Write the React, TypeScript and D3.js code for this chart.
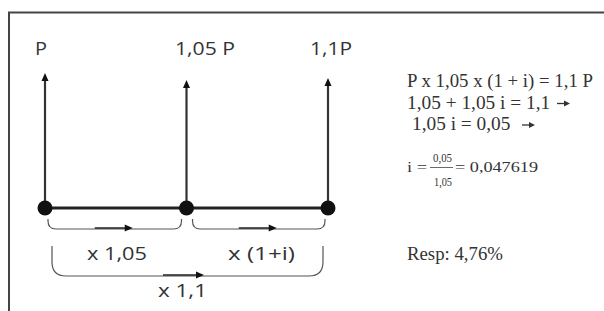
import React from 'react';
import * as d3 from 'd3';

// nodes of the cash-flow line
const nodeLabels = ['P', '1,05 P', '1,1P'];
const nodeIndex = [0, 1, 2];
const nodeArrowTop = [73, 80, 78];

// factor braces: from node, to node, label
const stepFrom = [0, 1];
const stepTo = [1, 2];
const stepLabels = ['x 1,05', 'x (1+i)'];
const totalLabel = 'x 1,1';

// solution lines on the right (arrow flag per line)
const eqLines = ['P x 1,05 x (1 + i) = 1,1 P', '1,05 + 1,05 i = 1,1 ', '1,05 i = 0,05  '];
const eqArrow = [false, true, true];
const fracNum = '0,05';
const fracDen = '1,05';
const fracResult = '= 0,047619';
const answer = 'Resp: 4,76%';

const W = 604;
const H = 311;

const brace = (x0: number, x1: number, yTop: number, yBot: number, r: number) => {
  const p = d3.path();
  p.moveTo(x0, yTop);
  p.lineTo(x0, yBot - r);
  p.quadraticCurveTo(x0, yBot, x0 + r, yBot);
  p.lineTo(x1 - r, yBot);
  p.quadraticCurveTo(x1, yBot, x1, yBot - r);
  p.lineTo(x1, yTop);
  return p.toString();
};

const Arrow = ({ x0, x1, y }: { x0: number; x1: number; y: number }) => (
  <g>
    <line x1={x0} x2={x1 - 6} y1={y} y2={y} stroke="#222" strokeWidth={1.4} />
    <path d={`M${x1},${y} L${x1 - 8},${y - 3.5} L${x1 - 8},${y + 3.5} Z`} fill="#111" />
  </g>
);

export default function App() {
  const x = d3.scaleLinear().domain([0, 2]).range([45, 328]);
  const lineY = 208;
  const sans = '"Open Sans", "DejaVu Sans", sans-serif';
  const serif = '"Liberation Serif", "DejaVu Serif", serif';
  const labelX = [35, 175, 310];
  const labelLen = [12, 60, 42];
  const stepX = [87, 228];
  const stepLen = [60, 67];
  const eqX = [407, 407, 412];
  const eqLen = [186, 148, 108];

  return (
    <svg width={W} height={H} style={{ position: 'absolute', left: 0, top: 0, background: '#fff' }}>
      {/* frame */}
      <path d={`M9,${H} L9,12.5 L${W},12.5`} fill="none" stroke="#444" strokeWidth={2} />

      {/* vertical arrows and labels */}
      {nodeIndex.map((i) => (
        <g key={i}>
          <line x1={x(i)} x2={x(i)} y1={lineY} y2={nodeArrowTop[i] + 6} stroke="#333" strokeWidth={2.2} />
          <path
            d={`M${x(i)},${nodeArrowTop[i]} L${x(i) - 3.5},${nodeArrowTop[i] + 8} L${x(i) + 3.5},${nodeArrowTop[i] + 8} Z`}
            fill="#111"
          />
          <text
            x={labelX[i]}
            y={55}
            fontFamily={sans}
            fontSize={19}
            fontWeight={500}
            fill="#333"
            textLength={labelLen[i]}
            lengthAdjust="spacingAndGlyphs"
          >
            {nodeLabels[i]}
          </text>
        </g>
      ))}

      {/* time line */}
      <line x1={x(0)} x2={x(2)} y1={lineY} y2={lineY} stroke="#222" strokeWidth={3} />
      {nodeIndex.map((i) => (
        <circle key={i} cx={x(i)} cy={lineY} r={7.5} fill="#111" />
      ))}

      {/* step braces */}
      {stepFrom.map((f, k) => {
        const a = x(f) + (k === 0 ? 3 : 6);
        const b = x(stepTo[k]) - (k === 0 ? 5 : 3);
        const mid = (a + b) / 2;
        return (
          <g key={k}>
            <path d={brace(a, b, 219, 229, 8)} fill="none" stroke="#555" strokeWidth={1.2} />
            <Arrow x0={mid - 20} x1={mid + 18} y={228} />
            <text
              x={stepX[k]}
              y={260}
              fontFamily={sans}
              fontSize={19}
              fontWeight={500}
              fill="#333"
              textLength={stepLen[k]}
              lengthAdjust="spacingAndGlyphs"
            >
              {stepLabels[k]}
            </text>
          </g>
        );
      })}

      {/* total brace */}
      <path d={brace(x(0) + 7, x(2) - 5, 246, 276, 14)} fill="none" stroke="#555" strokeWidth={1.2} />
      <Arrow x0={163} x1={204} y={275} />
      <text
        x={158}
        y={297}
        fontFamily={sans}
        fontSize={19}
        fontWeight={500}
        fill="#333"
        textLength={49}
        lengthAdjust="spacingAndGlyphs"
      >
        {totalLabel}
      </text>

      {/* solution */}
      <g fontFamily={serif} fill="#333">
        {eqLines.map((t, k) => {
          const y = 87 + k * 21.5;
          const ax = eqX[k] + eqLen[k] + 2;
          return (
            <g key={k}>
              <text x={eqX[k]} y={y} fontSize={18} textLength={eqLen[k]} lengthAdjust="spacingAndGlyphs" style={{ whiteSpace: 'pre' }}>
                {t}
              </text>
              {eqArrow[k] && (
                <g>
                  <line x1={ax} x2={ax + 9} y1={y - 5} y2={y - 5} stroke="#333" strokeWidth={1.3} />
                  <path d={`M${ax + 13},${y - 5} L${ax + 7},${y - 8} L${ax + 7},${y - 2} Z`} fill="#333" />
                </g>
              )}
            </g>
          );
        })}
        <text x={407} y={172} fontSize={14} textLength={20} lengthAdjust="spacingAndGlyphs">i =</text>
        <text x={433} y={162} fontSize={13} textLength={19} lengthAdjust="spacingAndGlyphs">{fracNum}</text>
        <line x1={430} x2={453} y1={167.5} y2={167.5} stroke="#444" strokeWidth={0.8} />
        <text x={434} y={186} fontSize={13} textLength={18} lengthAdjust="spacingAndGlyphs">{fracDen}</text>
        <text x={455} y={172} fontSize={15} textLength={83} lengthAdjust="spacingAndGlyphs">{fracResult}</text>
        <text x={407} y={260} fontSize={18} textLength={96} lengthAdjust="spacingAndGlyphs">{answer}</text>
      </g>
    </svg>
  );
}
